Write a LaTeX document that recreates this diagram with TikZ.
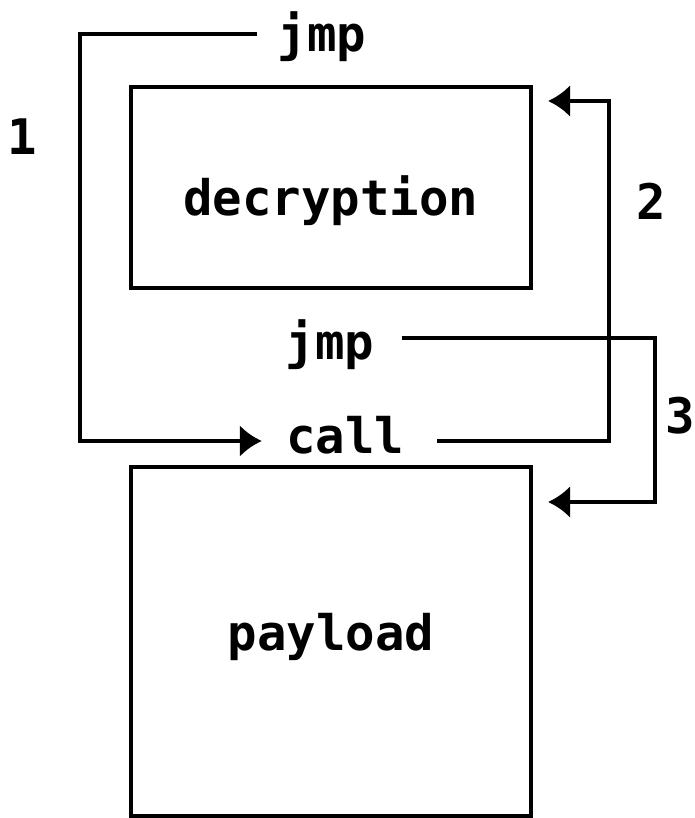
\documentclass[tikz,border=0pt]{standalone}
\usepackage{fontspec}
\usepackage{tikz}
\usetikzlibrary{arrows.meta}
\newfontfamily\pixfont{DejaVu Sans Mono}
\tikzstyle{block} = [rectangle, minimum width=400pt, draw=black, line width=4pt, inner sep=0pt, font=\pixfont\bfseries\fontsize{49}{49}\selectfont]
\tikzstyle{word} = [anchor=base, inner xsep=28pt, inner ysep=0pt, font=\pixfont\bfseries\fontsize{49}{49}\selectfont]
\tikzstyle{arrow} = [line width=4pt, -{Latex[length=22pt,width=32pt]}]

\begin{document}
\begin{tikzpicture}[x=1pt, y=-1pt]
\useasboundingbox (0,0) rectangle (694,818);
\node (decryption) [block, minimum height=201pt, text height=55pt, text depth=0pt] at (331,187.5) {decryption};
\node (payload) [block, minimum height=349pt, text height=30pt, text depth=13pt] at (331,641.5) {payload};
\node (jmpa) [word] at (322,52) {jmp};
\node (jmpb) [word] at (330,359) {jmp};
\node (call) [word] at (345,453) {call};
\node (one) [word] at (22,155) {1};
\node (two) [word] at (651,220) {2};
\node (three) [word] at (680,433) {3};
\coordinate (west1) at (80,240);
\coordinate (east2) at (609,240);
\coordinate (east3) at (655,420);
\draw [arrow, shorten <=-7pt, shorten >=-4pt] ([yshift=18pt]jmpa.base west) -| (west1) |- ([yshift=12pt]call.base west);
\draw [arrow, shorten <=5pt] ([yshift=12pt]call.base east) -| (east2) |- ([xshift=15pt,yshift=-16pt]decryption.north east);
\draw [arrow] ([yshift=21pt]jmpb.base east) -| (east3) |- ([xshift=15pt,yshift=-37pt]payload.north east);
\end{tikzpicture}
\end{document}
